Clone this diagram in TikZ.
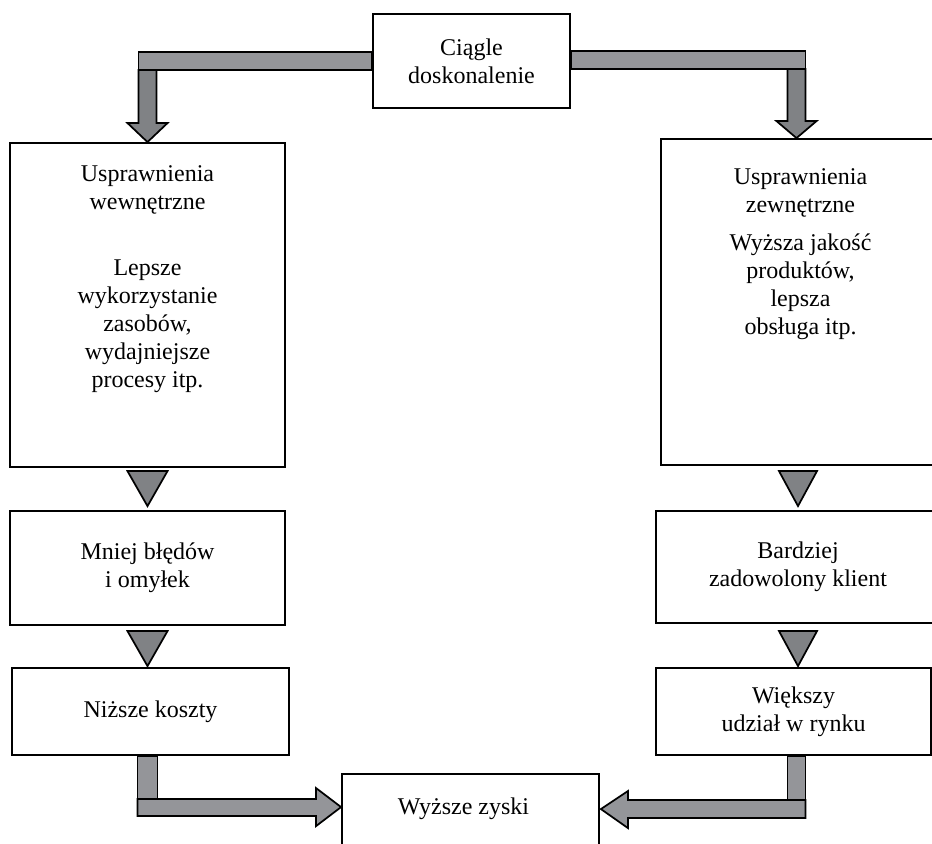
\documentclass[tikz,border=0pt]{standalone}
\usepackage{fontspec}
\setmainfont{Liberation Serif}
\usetikzlibrary{calc}
\definecolor{barlight}{RGB}{148,149,153}
\definecolor{bardark}{RGB}{128,130,133}
\begin{document}
\begin{tikzpicture}[x=0.75pt,y=-0.75pt,
  box/.style={draw, line width=1.4pt, inner sep=0pt},
  txt/.style={font=\fontsize{18}{21}\selectfont, align=center, inner sep=0pt},
  barL/.style={fill=barlight, draw=black, line width=1.3pt, line join=miter},
  barD/.style={fill=bardark, draw=black, line width=1.3pt, line join=miter}]
\useasboundingbox (0,0) rectangle (932,843);
\clip (0,0) rectangle (932,843);
% boxes
\node[box, txt, minimum width=147.75pt, minimum height=70.5pt] (top) at (471.5,61) {Ciągle\\doskonalenie};
\node[box, minimum width=206.25pt, minimum height=243pt] (lbig) at (147.5,305) {};
\node[box, minimum width=209.25pt, minimum height=244.5pt] (rbig) at (800.5,302) {};
\node[box, txt, minimum width=206.25pt, minimum height=85.5pt] (lmid) at (147.5,568) {Mniej błędów\\i omyłek};
\node[box, txt, minimum width=213pt, minimum height=84pt] (rmid) at (798,567) {Bardziej\\zadowolony klient};
\node[box, txt, minimum width=207.75pt, minimum height=65.25pt] (llow) at (150.5,711.5) {Niższe koszty};
\node[box, txt, minimum width=206.25pt, minimum height=65.25pt] (rlow) at (793.5,711.5) {Większy\\udział w rynku};
\node[box, minimum width=192.75pt, minimum height=79.5pt] (bot) at (470.5,827) {};
\node[txt, anchor=base] (bottxt) at ($(bot.north)+(-7,41)$) {Wyższe zyski};
% texts of the big boxes
\node[txt, anchor=north] (lbigtxt) at ($(lbig.north)+(0,23)$)
  {Usprawnienia\\wewnętrzne\\[29pt]Lepsze\\wykorzystanie\\zasobów,\\wydajniejsze\\procesy itp.};
\node[txt, anchor=north] (rbigtxt) at ($(rbig.north)+(0,30)$)
  {Usprawnienia\\zewnętrzne\\[8pt]Wyższa jakość\\produktów,\\lepsza\\obsługa itp.};
% helper coordinates
\coordinate (tlc) at (lbig.north |- top.west);
\coordinate (rtip) at ($(rbig.north)+(-4,0)$);
\coordinate (trc) at (rtip |- top.east);
\coordinate (btipL) at ($(bot.north west)+(0,34)$);
\coordinate (btipR) at ($(bot.north east)+(1,36)$);
\coordinate (blc) at (lbig.south |- btipL);
\coordinate (brc) at (rtip |- btipR);
% top-left block arrow
\draw[barL] ($(top.west)+(0,-9)$) -- ($(tlc)+(-9,-9)$) -- ($(tlc)+(-9,9)$) -- ($(top.west)+(0,9)$) -- cycle;
\draw[barD] ($(tlc)+(-9,9)$) -- ($(lbig.north)+(-9,-19)$) -- ($(lbig.north)+(-20,-19)$) -- (lbig.north)
  -- ($(lbig.north)+(20,-19)$) -- ($(lbig.north)+(9,-19)$) -- ($(tlc)+(9,9)$) -- cycle;
% top-right block arrow
\draw[barL] ($(top.east)+(0,-10)$) -- ($(trc)+(9,-10)$) -- ($(trc)+(9,8)$) -- ($(top.east)+(0,8)$) -- cycle;
\draw[barD] ($(trc)+(-9,8)$) -- ($(rtip)+(-9,-17)$) -- ($(rtip)+(-20,-17)$) -- (rtip)
  -- ($(rtip)+(20,-17)$) -- ($(rtip)+(9,-17)$) -- ($(trc)+(9,8)$) -- cycle;
% triangles between boxes
\draw[barD] ($(lmid.north)+(0,-4)$) -- ++(-20,-35) -- ++(40,0) -- cycle;
\draw[barD] ($(lmid.south |- llow.north)+(0,-1)$) -- ++(-20,-35) -- ++(40,0) -- cycle;
\draw[barD] ($(rmid.north)+(0,-4)$) -- ++(-19,-35) -- ++(38,0) -- cycle;
\draw[barD] ($(rmid.south |- rlow.north)+(0,-1)$) -- ++(-19,-35) -- ++(38,0) -- cycle;
% bottom-left block arrow
\draw[barL] ($(blc |- llow.south)+(-10,0)$) rectangle ($(blc)+(10,-8)$);
\draw[barL] ($(blc)+(-10,-8)$) -- ($(btipL)+(-25,-8)$) -- ($(btipL)+(-25,-19)$) -- (btipL)
  -- ($(btipL)+(-25,19)$) -- ($(btipL)+(-25,9)$) -- ($(blc)+(-10,9)$) -- cycle;
% bottom-right block arrow
\draw[barL] ($(brc |- rlow.south)+(-9,0)$) rectangle ($(brc)+(9,-9)$);
\draw[barL] ($(brc)+(9,-9)$) -- ($(btipR)+(27,-9)$) -- ($(btipR)+(27,-18)$) -- (btipR)
  -- ($(btipR)+(27,19)$) -- ($(btipR)+(27,9)$) -- ($(brc)+(9,9)$) -- cycle;
\end{tikzpicture}
\end{document}
